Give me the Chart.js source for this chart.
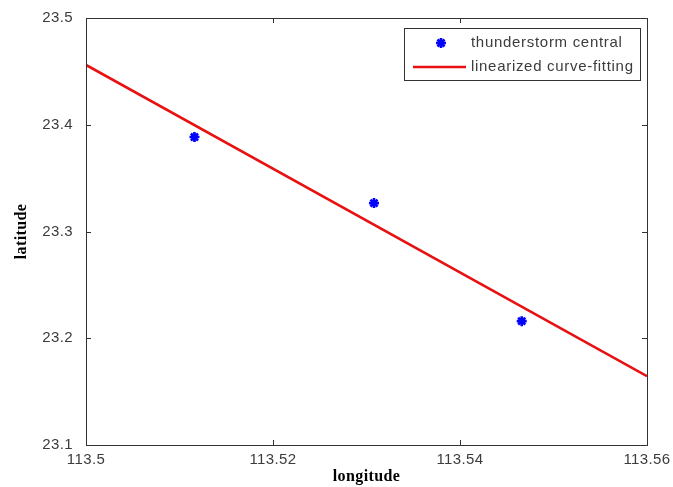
<!doctype html>
<html lang="en">
<head>
<meta charset="utf-8">
<title>Thunderstorm central</title>
<script src="https://cdn.jsdelivr.net/npm/chart.js"></script>
<style>
  html, body { margin: 0; padding: 0; background: #fff; }
  #wrap { width: 673px; height: 487px; }
</style>
</head>
<body>
<div id="wrap"><canvas id="myChart"></canvas></div>
<script>
// storm centre positions (longitude, latitude)
const stormLon = [113.5116, 113.5308, 113.5466];
const stormLat = [23.3885, 23.3266, 23.2160];
// fitted line end points
const fitLon = [113.50, 113.56];
const fitLat = [23.456, 23.1645];
// axis ticks
const xTicks = [113.5, 113.52, 113.54, 113.56];
const yTicks = [23.1, 23.2, 23.3, 23.4, 23.5];
const xTickLabels = ['113.5', '113.52', '113.54', '113.56'];
const yTickLabels = ['23.1', '23.2', '23.3', '23.4', '23.5'];
const seriesLabels = ['thunderstorm central', 'linearized curve-fitting'];

const BLUE = '#0000ff';
const RED = '#e81010';
const FRAME = '#333333';
const TEXT = '#3c3c3c';
const SANS = '"Liberation Sans", Arial, sans-serif';
const SERIF = '"Liberation Serif", "Times New Roman", serif';

// box + inward ticks + legend, matlab style
const framePlugin = {
  id: 'frame',
  beforeDraw(chart) {
    chart.ctx.letterSpacing = '0.4px';
  },
  afterDatasetsDraw(chart) {
    const ctx = chart.ctx;
    const a = chart.chartArea;
    const xs = chart.scales.x, ys = chart.scales.y;
    ctx.save();
    ctx.strokeStyle = FRAME;
    ctx.lineWidth = 1;
    ctx.strokeRect(a.left + 0.5, a.top + 0.5, a.right - a.left, a.bottom - a.top);
    ctx.beginPath();
    xTicks.forEach(v => {
      const px = Math.round(xs.getPixelForValue(v)) + 0.5;
      ctx.moveTo(px, a.bottom); ctx.lineTo(px, a.bottom - 5);
      ctx.moveTo(px, a.top); ctx.lineTo(px, a.top + 5);
    });
    yTicks.forEach(v => {
      const py = Math.round(ys.getPixelForValue(v)) + 0.5;
      ctx.moveTo(a.left, py); ctx.lineTo(a.left + 5, py);
      ctx.moveTo(a.right, py); ctx.lineTo(a.right - 5, py);
    });
    ctx.stroke();

    // legend box
    const bx = 404, by = 28, bw = 236, bh = 52;
    ctx.fillStyle = '#fff';
    ctx.fillRect(bx, by, bw, bh);
    ctx.strokeRect(bx + 0.5, by + 0.5, bw, bh);
    ctx.font = '15px ' + SANS;
    ctx.letterSpacing = '0.7px';
    ctx.fillStyle = TEXT;
    ctx.textBaseline = 'middle';
    ctx.fillText(seriesLabels[0], 471, by + 15);
    ctx.fillText(seriesLabels[1], 471, by + 39);
    ctx.strokeStyle = BLUE;
    ctx.fillStyle = BLUE;
    ctx.lineWidth = 2.6;
    Chart.helpers.drawPoint(ctx, {pointStyle: 'star', radius: 5, borderWidth: 2.6}, 441, by + 15);
    ctx.strokeStyle = RED;
    ctx.lineWidth = 2.5;
    ctx.beginPath();
    ctx.moveTo(413, by + 39); ctx.lineTo(466, by + 39);
    ctx.stroke();
    ctx.restore();
  },
  afterDraw(chart) {
    chart.ctx.letterSpacing = '0px';
  }
};

const config = {
  type: 'scatter',
  data: {
    datasets: [
      {
        label: seriesLabels[0],
        data: stormLon.map((x, i) => ({x: x, y: stormLat[i]})),
        pointStyle: 'star',
        pointRadius: 5,
        pointBorderWidth: 2.6,
        borderColor: BLUE,
        backgroundColor: BLUE,
        order: 0
      },
      {
        label: seriesLabels[1],
        data: fitLon.map((x, i) => ({x: x, y: fitLat[i]})),
        showLine: true,
        pointRadius: 0,
        borderColor: RED,
        borderWidth: 2.6,
        order: 1
      }
    ]
  },
  options: {
    responsive: true,
    maintainAspectRatio: false,
    animation: false,
    layout: { padding: { top: 18, right: 26, left: 0, bottom: 0 } },
    plugins: { legend: { display: false }, tooltip: { enabled: false } },
    scales: {
      x: {
        type: 'linear',
        min: 113.5, max: 113.56,
        grid: { display: false, drawTicks: false },
        border: { display: false },
        afterBuildTicks: s => { s.ticks = xTicks.map(v => ({value: v})); },
        afterFit: s => { s.height = 42; s.paddingLeft = 0; s.paddingRight = 0; },
        ticks: {
          autoSkip: false, maxRotation: 0, padding: 6, color: TEXT,
          font: { family: SANS, size: 15 },
          callback: (v, i) => xTickLabels[i]
        },
        title: {
          display: true, text: 'longitude', color: '#000',
          font: { family: SERIF, size: 16, weight: 'bold' },
          padding: { top: 0, bottom: 1 }
        }
      },
      y: {
        type: 'linear',
        min: 23.1, max: 23.5,
        grid: { display: false, drawTicks: false },
        border: { display: false },
        afterBuildTicks: s => { s.ticks = yTicks.map(v => ({value: v})); },
        afterFit: s => { s.width = 86; s.paddingTop = 0; s.paddingBottom = 0; },
        ticks: {
          autoSkip: false, padding: 13, color: TEXT,
          font: { family: SANS, size: 15 },
          callback: (v, i) => yTickLabels[i]
        },
        title: {
          display: true, text: 'latitude', color: '#000',
          font: { family: SERIF, size: 16, weight: 'bold' },
          padding: { top: 12, bottom: 0 }
        }
      }
    }
  },
  plugins: [framePlugin]
};

new Chart(document.getElementById('myChart'), config);
</script>
</body>
</html>
